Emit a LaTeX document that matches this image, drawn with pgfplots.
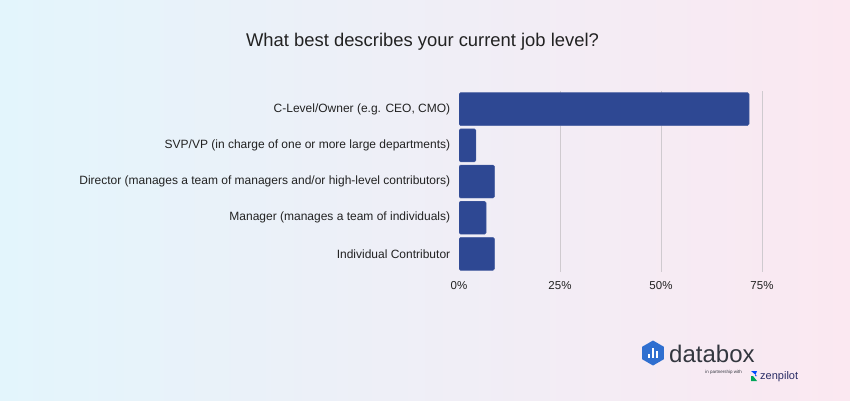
\documentclass[border=0pt]{standalone}
\usepackage{pgfplots}
\pgfplotsset{compat=1.18}
\usepackage{fontspec}
\setmainfont{Liberation Sans}
\definecolor{barblue}{HTML}{2E4893}
\definecolor{bgleft}{HTML}{E3F5FC}
\definecolor{bgright}{HTML}{FBE8F1}
\definecolor{txt}{HTML}{222222}
\definecolor{gridc}{HTML}{CFCACF}
\definecolor{logoblue}{HTML}{2F6FD0}
\definecolor{logotxt}{HTML}{33373F}
\begin{document}
\begin{tikzpicture}[x=1pt,y=1pt]
\shade[left color=bgleft, right color=bgright] (0,0) rectangle (850,400);
\node[font=\fontsize{18.4}{20}\selectfont, text=txt, anchor=base, inner sep=0] at (422.5,353.3) {What best describes your current job level?};
\begin{axis}[
  at={(459pt,128pt)}, anchor=south west,
  scale only axis, width=303pt, height=181pt,
  xbar, bar width=33pt,
  xmin=0, xmax=75, ymin=-0.5, ymax=4.5,
  y dir=reverse,
  axis line style={draw=none},
  tick style={draw=none},
  xmajorgrids, grid style={gridc, line width=0.8pt},
  xtick={25,50,75}, extra x ticks={0}, extra x tick style={grid=none},
  xticklabel={\pgfmathprintnumber{\tick}\%},
  /pgf/number format/assume math mode=true,
  ytick={0,1,2,3,4},
  yticklabels={{C-Level/Owner (e.g. CEO, CMO)},{SVP/VP (in charge of one or more large departments)},{Director (manages a team of managers and/or high-level contributors)},{Manager (manages a team of individuals)},{Individual Contributor}},
  ticklabel style={text=txt},
  yticklabel style={font=\fontsize{12}{14}\selectfont, xshift=-1pt},
  xticklabel style={font=\fontsize{11.5}{14}\selectfont, yshift=-6pt},
]
\addplot[fill=barblue, draw=barblue!85!white, rounded corners=1.5pt] coordinates {(71.8,0) (4.2,1) (8.8,2) (6.7,3) (8.8,4)};
\end{axis}
% logo
\begin{scope}[shift={(653,47)}]
\fill[logoblue] (90:12.5) -- (150:12.5) -- (210:12.5) -- (270:12.5) -- (330:12.5) -- (30:12.5) -- cycle;
\fill[white] (-5,-5) rectangle (-3,-1);
\fill[white] (-1,-5) rectangle (1,5);
\fill[white] (3,-5) rectangle (5,2);
\end{scope}
\node[font=\fontsize{24}{28}\selectfont, text=logotxt, anchor=base west, inner sep=0] at (669,38) {databox};
\node[font=\fontsize{4.5}{5}\selectfont, text=logotxt, anchor=base east, inner sep=0] at (742,27) {in partnership with};
\begin{scope}[shift={(754,24)}]
\fill[teal!70!green] (-3,-5) -- (3,-5) -- (-1,0) -- (-3,0) -- cycle;
\fill[blue!70!cyan] (-3,5) -- (3,5) -- (1,0) -- (3,0) -- cycle;
\end{scope}
\node[font=\fontsize{11}{12}\selectfont, text=logotxt!80!blue, anchor=base west, inner sep=0] at (760,21) {zenpilot};
\end{tikzpicture}
\end{document}
